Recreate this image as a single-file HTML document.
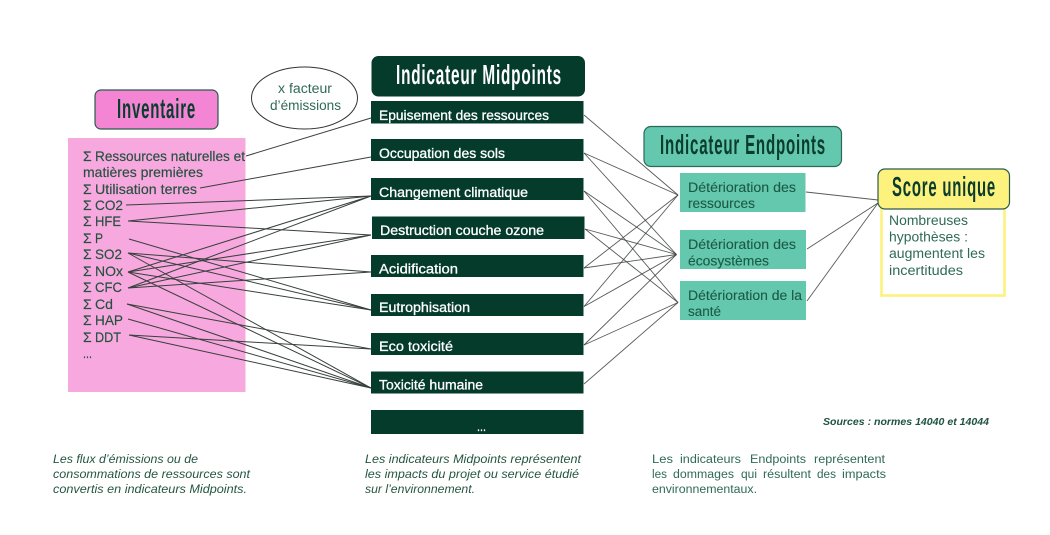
<!DOCTYPE html>
<html lang="fr"><head><meta charset="utf-8"><title>Indicateurs</title>
<style>
html,body{margin:0;padding:0;background:#fff;width:1050px;height:535px;overflow:hidden}
svg{display:block;filter:blur(.35px)}
text{font-family:"Liberation Sans",sans-serif}
.t{font-size:28px;font-weight:bold;letter-spacing:1.5px;fill:#0a3d2d}
.b{font-size:14px;fill:#24503f;stroke:#24503f;stroke-width:.15}
.m{font-size:13.5px;fill:#fff;stroke:#fff;stroke-width:.3}
.e{font-size:13.5px;fill:#1c5a46;stroke:#1c5a46;stroke-width:.12}
.n{font-size:13.5px;fill:#2f6a56}
.i{font-size:11.5px;font-style:italic;fill:#24553f}
.j{font-size:11.5px;fill:#2f6a56}
.l line{stroke:#38403c;stroke-width:1}
.l2 line{stroke:#3a3f3d;stroke-width:.9;opacity:.85}
</style></head><body>
<svg width="1050" height="535" viewBox="0 0 1050 535" xmlns="http://www.w3.org/2000/svg">
<rect width="1050" height="535" fill="#fff"/>
<rect x="68" y="138" width="177.5" height="254" fill="#f7a8de"/>
<rect x="95" y="90" width="123" height="39" rx="6" fill="#f484d4" stroke="#2b5b4c" stroke-width="1.2"/>
<text class="t" x="117" y="118" textLength="79" lengthAdjust="spacingAndGlyphs">Inventaire</text>
<ellipse cx="304.5" cy="98" rx="53" ry="31" fill="#fff" stroke="#333" stroke-width="1"/>
<text class="n" x="278" y="93" textLength="54" lengthAdjust="spacingAndGlyphs">x facteur</text>
<text class="n" x="270" y="110" textLength="71" lengthAdjust="spacingAndGlyphs">d’émissions</text>
<g class="b">
<text x="83" y="161">Σ</text><text x="95" y="161" textLength="150" lengthAdjust="spacingAndGlyphs">Ressources naturelles et</text>
<text x="83" y="177" textLength="120" lengthAdjust="spacingAndGlyphs">matières premières</text>
<text x="83" y="194">Σ</text><text x="95" y="194" textLength="102" lengthAdjust="spacingAndGlyphs">Utilisation terres</text>
<text x="83" y="210">Σ</text><text x="95" y="210" textLength="28" lengthAdjust="spacingAndGlyphs">CO2</text>
<text x="83" y="226">Σ</text><text x="95" y="226" textLength="26" lengthAdjust="spacingAndGlyphs">HFE</text>
<text x="83" y="243">Σ</text><text x="95" y="243" textLength="8" lengthAdjust="spacingAndGlyphs">P</text>
<text x="83" y="259">Σ</text><text x="95" y="259" textLength="27" lengthAdjust="spacingAndGlyphs">SO2</text>
<text x="83" y="276">Σ</text><text x="95" y="276" textLength="28" lengthAdjust="spacingAndGlyphs">NOx</text>
<text x="83" y="292">Σ</text><text x="95" y="292" textLength="27" lengthAdjust="spacingAndGlyphs">CFC</text>
<text x="83" y="309">Σ</text><text x="95" y="309" textLength="18" lengthAdjust="spacingAndGlyphs">Cd</text>
<text x="83" y="325">Σ</text><text x="95" y="325" textLength="28" lengthAdjust="spacingAndGlyphs">HAP</text>
<text x="83" y="342">Σ</text><text x="95" y="342" textLength="26" lengthAdjust="spacingAndGlyphs">DDT</text>
<text x="83" y="358" textLength="9" lengthAdjust="spacingAndGlyphs">...</text>
</g>
<g class="l">
<line x1="246" y1="156" x2="371" y2="118"/>
<line x1="200" y1="188" x2="371" y2="157"/>
<line x1="126" y1="205" x2="371" y2="196"/>
<line x1="128" y1="221" x2="371" y2="196"/>
<line x1="128" y1="221" x2="371" y2="235"/>
<line x1="129" y1="239" x2="371" y2="310"/>
<line x1="128" y1="253" x2="371" y2="272"/>
<line x1="128" y1="253" x2="371" y2="310"/>
<line x1="128" y1="253" x2="371" y2="388"/>
<line x1="128" y1="272" x2="371" y2="196"/>
<line x1="128" y1="272" x2="371" y2="235"/>
<line x1="128" y1="272" x2="371" y2="310"/>
<line x1="128" y1="272" x2="371" y2="388"/>
<line x1="128" y1="288" x2="371" y2="196"/>
<line x1="128" y1="288" x2="371" y2="235"/>
<line x1="128" y1="288" x2="371" y2="272"/>
<line x1="127" y1="304" x2="371" y2="349"/>
<line x1="127" y1="304" x2="371" y2="388"/>
<line x1="128" y1="319" x2="371" y2="388"/>
<line x1="129" y1="335" x2="371" y2="349"/>
<line x1="129" y1="335" x2="371" y2="388"/>
</g>
<g class="l2">
<line x1="584" y1="115" x2="678" y2="195"/>
<line x1="584" y1="153" x2="678" y2="195"/>
<line x1="584" y1="153" x2="676.5" y2="254.5"/>
<line x1="584" y1="191" x2="676.5" y2="254.5"/>
<line x1="584" y1="191" x2="678" y2="302.5"/>
<line x1="585" y1="229" x2="676.5" y2="254.5"/>
<line x1="585" y1="229" x2="678" y2="302.5"/>
<line x1="584" y1="268" x2="678" y2="195"/>
<line x1="584" y1="268" x2="676.5" y2="254.5"/>
<line x1="584" y1="306.5" x2="678" y2="195"/>
<line x1="584" y1="306.5" x2="676.5" y2="254.5"/>
<line x1="584" y1="345" x2="676.5" y2="254.5"/>
<line x1="584" y1="345" x2="678" y2="302.5"/>
<line x1="584" y1="384" x2="678" y2="302.5"/>
<line x1="806" y1="192" x2="878" y2="200"/>
<line x1="807" y1="249" x2="878" y2="203"/>
<line x1="807" y1="301" x2="878" y2="203"/>
</g>
<rect x="371.5" y="56" width="213.5" height="40.5" rx="7" fill="#043b2a"/>
<text class="t" x="396" y="84" textLength="166" lengthAdjust="spacingAndGlyphs" style="fill:#fff">Indicateur Midpoints</text>
<g fill="#043b2a">
<rect x="371" y="101" width="212.5" height="22.5"/>
<rect x="371" y="139" width="212.5" height="22"/>
<rect x="371" y="178" width="212.5" height="22"/>
<rect x="372" y="216.5" width="212.5" height="22.5"/>
<rect x="371" y="255" width="212.5" height="22"/>
<rect x="371" y="294" width="212.5" height="22"/>
<rect x="371" y="333" width="212.5" height="22"/>
<rect x="371" y="371.5" width="212.5" height="22"/>
<rect x="371" y="410" width="212.5" height="24"/>
</g>
<g class="m">
<text x="379" y="120" textLength="170" lengthAdjust="spacingAndGlyphs">Epuisement des ressources</text>
<text x="379" y="158" textLength="126" lengthAdjust="spacingAndGlyphs">Occupation des sols</text>
<text x="379" y="197" textLength="149" lengthAdjust="spacingAndGlyphs">Changement climatique</text>
<text x="380" y="235" textLength="164" lengthAdjust="spacingAndGlyphs">Destruction couche ozone</text>
<text x="379" y="273.5" textLength="79" lengthAdjust="spacingAndGlyphs">Acidification</text>
<text x="379" y="312" textLength="91" lengthAdjust="spacingAndGlyphs">Eutrophisation</text>
<text x="379" y="351" textLength="74" lengthAdjust="spacingAndGlyphs">Eco toxicité</text>
<text x="379" y="389.5" textLength="104" lengthAdjust="spacingAndGlyphs">Toxicité humaine</text>
<text x="477" y="431" textLength="9" lengthAdjust="spacingAndGlyphs">...</text>
</g>
<rect x="644" y="126.5" width="197.5" height="40" rx="7" fill="#64c8ae" stroke="#2b6a58" stroke-width="1.2"/>
<text class="t" x="660" y="154" textLength="166" lengthAdjust="spacingAndGlyphs">Indicateur Endpoints</text>
<g fill="#64c8ae">
<rect x="680" y="173" width="125.5" height="39"/>
<rect x="680" y="230" width="126" height="39"/>
<rect x="680" y="281" width="126" height="39"/>
</g>
<g class="e">
<text x="688" y="192" textLength="108" lengthAdjust="spacingAndGlyphs">Détérioration des</text>
<text x="688" y="208" textLength="67" lengthAdjust="spacingAndGlyphs">ressources</text>
<text x="688" y="249" textLength="108" lengthAdjust="spacingAndGlyphs">Détérioration des</text>
<text x="688" y="265.5" textLength="81" lengthAdjust="spacingAndGlyphs">écosystèmes</text>
<text x="688" y="300" textLength="114" lengthAdjust="spacingAndGlyphs">Détérioration de la</text>
<text x="688" y="316" textLength="33" lengthAdjust="spacingAndGlyphs">santé</text>
</g>
<rect x="881.5" y="207" width="123" height="88.5" fill="#fff" stroke="#fcf27c" stroke-width="2.6"/>
<rect x="878" y="169" width="131.5" height="40" rx="7" fill="#fdf27e" stroke="#2b5b4c" stroke-width="1.2"/>
<text class="t" x="892" y="196" textLength="104" lengthAdjust="spacingAndGlyphs">Score unique</text>
<g class="n">
<text x="889" y="225" textLength="79" lengthAdjust="spacingAndGlyphs">Nombreuses</text>
<text x="889" y="241.5" textLength="79" lengthAdjust="spacingAndGlyphs">hypothèses :</text>
<text x="889" y="258" textLength="96" lengthAdjust="spacingAndGlyphs">augmentent les</text>
<text x="889" y="275" textLength="74" lengthAdjust="spacingAndGlyphs">incertitudes</text>
</g>
<text x="823" y="425" textLength="166" lengthAdjust="spacingAndGlyphs" style="font-size:10.5px;font-weight:bold;font-style:italic;fill:#1f5340">Sources : normes 14040 et 14044</text>
<g class="i">
<text x="53" y="463" textLength="145" lengthAdjust="spacingAndGlyphs">Les flux d’émissions ou de</text>
<text x="53" y="478" textLength="197" lengthAdjust="spacingAndGlyphs">consommations de ressources sont</text>
<text x="53" y="493" textLength="194" lengthAdjust="spacingAndGlyphs">convertis en indicateurs Midpoints.</text>
<text x="365" y="463" textLength="216" lengthAdjust="spacingAndGlyphs">Les indicateurs Midpoints représentent</text>
<text x="365" y="478" textLength="214" lengthAdjust="spacingAndGlyphs">les impacts du projet ou service étudié</text>
<text x="365" y="493" textLength="110" lengthAdjust="spacingAndGlyphs">sur l’environnement.</text>
</g>
<g class="j">
<text x="652" y="463" textLength="21" lengthAdjust="spacingAndGlyphs">Les</text>
<text x="680" y="463" textLength="61" lengthAdjust="spacingAndGlyphs">indicateurs</text>
<text x="750" y="463" textLength="56" lengthAdjust="spacingAndGlyphs">Endpoints</text>
<text x="814" y="463" textLength="71" lengthAdjust="spacingAndGlyphs">représentent</text>
<text x="652" y="478" textLength="15" lengthAdjust="spacingAndGlyphs">les</text>
<text x="673" y="478" textLength="61" lengthAdjust="spacingAndGlyphs">dommages</text>
<text x="741" y="478" textLength="16" lengthAdjust="spacingAndGlyphs">qui</text>
<text x="763" y="478" textLength="48" lengthAdjust="spacingAndGlyphs">résultent</text>
<text x="817" y="478" textLength="19" lengthAdjust="spacingAndGlyphs">des</text>
<text x="842" y="478" textLength="44" lengthAdjust="spacingAndGlyphs">impacts</text>
<text x="652" y="493" textLength="105" lengthAdjust="spacingAndGlyphs">environnementaux.</text>
</g>
</svg>
</body></html>
